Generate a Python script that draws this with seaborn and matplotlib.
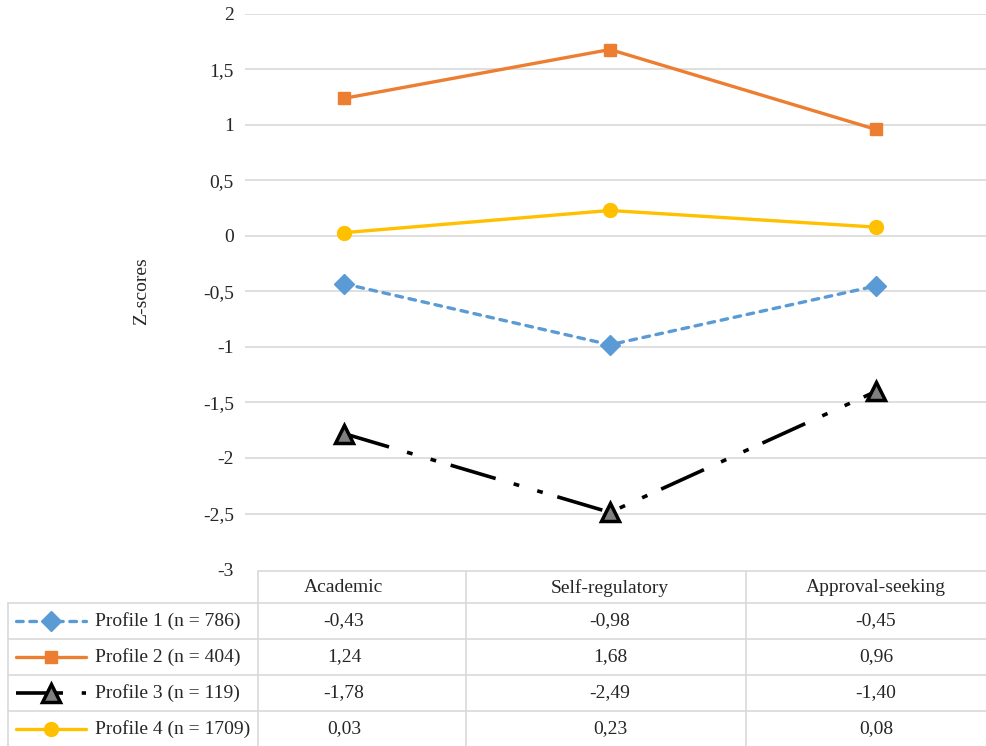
import matplotlib
matplotlib.use("Agg")
import matplotlib.pyplot as plt
import seaborn as sns
from matplotlib.lines import Line2D

# Data
categories = ['Academic', 'Self-regulatory', 'Approval-seeking']
profiles = ['Profile 1 (n = 786)', 'Profile 2 (n = 404)',
            'Profile 3 (n = 119)', 'Profile 4 (n = 1709)']
p1 = [-0.43, -0.98, -0.45]
p2 = [1.24, 1.68, 0.96]
p3 = [-1.78, -2.49, -1.40]
p4 = [0.03, 0.23, 0.08]
yticks = [2, 1.5, 1, 0.5, 0, -0.5, -1, -1.5, -2, -2.5, -3]

values = [p1, p2, p3, p4]
styles = [
    dict(color='#5B9BD5', marker='D', ms=10, mfc='#5B9BD5', mec='#5B9BD5',
         lw=2.4, ls=(0, (2, 2)), cap='round'),
    dict(color='#ED7D31', marker='s', ms=9, mfc='#ED7D31', mec='#ED7D31',
         lw=2.4, ls='-', cap='butt'),
    dict(color='black', marker='^', ms=12.5, mfc='#7F7F7F', mec='black',
         lw=2.6, ls=(0, (13, 5.2, 1.6, 5.2, 1.6, 4.2)), cap='butt'),
    dict(color='#FFC000', marker='o', ms=10, mfc='#FFC000', mec='#FFC000',
         lw=2.4, ls='-', cap='butt'),
]

sns.set_style('white')
plt.rcParams['font.family'] = ['Liberation Serif', 'DejaVu Serif']
FS = 14

W, H = 987, 746
fig = plt.figure(figsize=(W / 100, H / 100), dpi=100)


def fx(x):
    return x / W


def fy(y):
    return 1 - y / H


# main axes: gridline from x=245 to 987, y=2 at 14px, y=-3 at 569px
x0, x1 = 245, 987
ytop, ybot = 14, 569
ax = fig.add_axes([fx(x0), fy(ybot), (x1 - x0) / W, (ybot - ytop) / H])
cx = [344, 610, 876]
step = cx[1] - cx[0]
ax.set_xlim((x0 - cx[0]) / step, (x1 - cx[0]) / step)
ax.set_ylim(-3, 2)

for v, st in zip(values, styles):
    sns.lineplot(x=list(range(len(categories))), y=v, ax=ax, color=st['color'],
                 marker=st['marker'], markersize=st['ms'],
                 markerfacecolor=st['mfc'], markeredgecolor=st['mec'],
                 markeredgewidth=2.5 if st['marker'] == '^' else 1,
                 linewidth=st['lw'], linestyle=st['ls'], zorder=3)
    ax.lines[-1].set_dash_capstyle(st['cap'])

ax.set_yticks(yticks)
ax.set_yticklabels([f'{t:g}'.replace('.', ',') for t in yticks], fontsize=FS)
ax.set_xticks([])
ax.tick_params(axis='y', length=0, pad=8)
for t in yticks[:-1]:
    ax.axhline(t, color='#D9D9D9', lw=1.2, zorder=1)
for s in ax.spines.values():
    s.set_visible(False)

fig.text(fx(142), fy(291), 'Z-scores', rotation=90, ha='center', va='center',
         fontsize=FS)

# data table
gc = '#D9D9D9'
row_lines = [571, 603, 639, 675, 711]
col_lines = [258, 466, 746]
# header top
fig.add_artist(Line2D([fx(258), fx(W)], [fy(571), fy(571)], color=gc, lw=1.2,
                      transform=fig.transFigure))
for y in row_lines[1:]:
    fig.add_artist(Line2D([fx(8), fx(W)], [fy(y), fy(y)], color=gc, lw=1.2,
                          transform=fig.transFigure))
fig.add_artist(Line2D([fx(8), fx(8)], [fy(603), fy(H)], color=gc, lw=1.2,
                      transform=fig.transFigure))
for x in col_lines:
    fig.add_artist(Line2D([fx(x), fx(x)], [fy(571), fy(H)], color=gc, lw=1.2,
                          transform=fig.transFigure))

for c, x in zip(categories, cx):
    fig.text(fx(x), fy(588), c, ha='center', va='center', fontsize=FS)

row_centers = [621, 657, 693, 729]
for name, v, st, yc in zip(profiles, values, styles, row_centers):
    ln = Line2D([fx(16), fx(51), fx(86)], [fy(yc)] * 3, color=st['color'],
                lw=st['lw'], ls=st['ls'], marker=st['marker'],
                markersize=st['ms'], markerfacecolor=st['mfc'],
                markeredgecolor=st['mec'],
                markeredgewidth=2.5 if st['marker'] == '^' else 1,
                markevery=[1], transform=fig.transFigure)
    ln.set_dash_capstyle(st['cap'])
    fig.add_artist(ln)
    fig.text(fx(95), fy(yc), name, ha='left', va='center', fontsize=FS)
    for val, x in zip(v, cx):
        fig.text(fx(x), fy(yc), f'{val:.2f}'.replace('.', ','), ha='center',
                 va='center', fontsize=FS)

fig.savefig('out.png', dpi=100)
